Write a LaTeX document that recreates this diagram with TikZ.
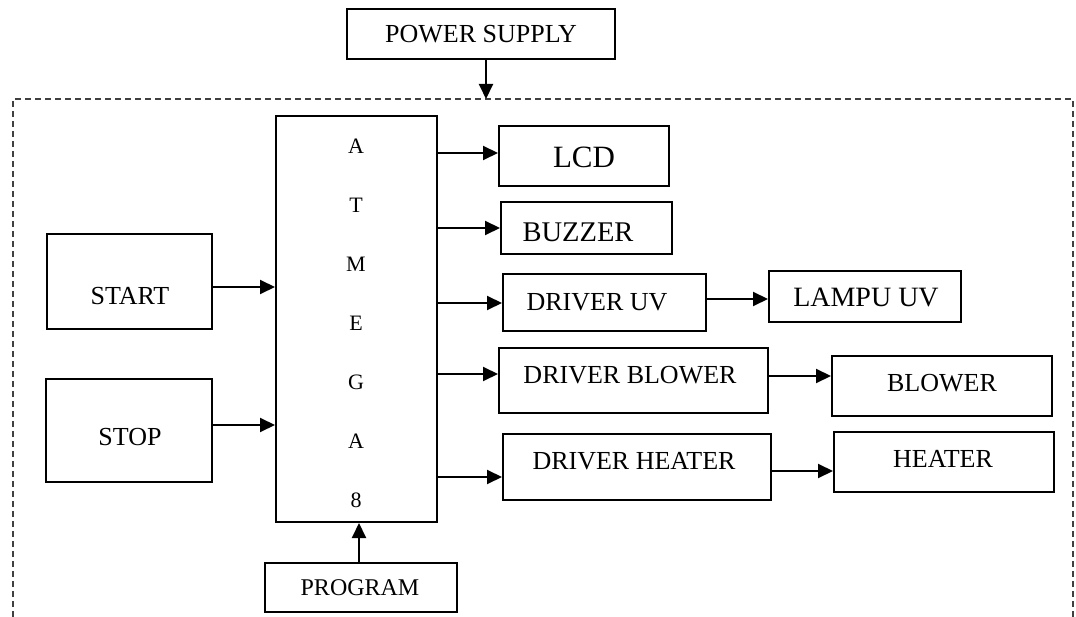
\documentclass[tikz,border=0pt]{standalone}
\usepackage{fontspec}
\setmainfont{Liberation Serif}
\usetikzlibrary{arrows.meta}

\newcommand*{\lebar}{1076}
\newcommand*{\tinggi}{617}
\newcommand*{\ukuran}[1]{\fontsize{#1}{#1}\selectfont}

\begin{document}
\begin{tikzpicture}
[
	x=1pt,
	y=-1pt,
	blok/.style={draw,line width=2pt,inner sep=0pt},
	teks/.style={inner sep=0pt,font=\ukuran{26}},
	panah/.style={line width=2pt,-{Triangle[length=15pt,width=14pt]}},
	batas/.style={line width=1.3pt,black!75,dash pattern=on 6pt off 4pt}
]

	\useasboundingbox (0,0) rectangle (\lebar,\tinggi);

	% system border (open at the bottom)
	\draw[batas] (13,\tinggi) -- (13,99) -- (1073,99) -- (1073,\tinggi);
	\coordinate (masuk) at (486,99);

	% boxes
	\node[blok,minimum width=268pt,minimum height=50pt] at (481,34) (power) {};
	\node[blok,minimum width=161pt,minimum height=406pt] at (356.5,319) (mcu) {};
	\node[blok,minimum width=165pt,minimum height=95pt] at (129.5,281.5) (start) {};
	\node[blok,minimum width=166pt,minimum height=103pt] at (129,430.5) (stop) {};
	\node[blok,minimum width=192pt,minimum height=49pt] at (361,587.5) (program) {};
	\node[blok,minimum width=170pt,minimum height=60pt] at (584,156) (lcd) {};
	\node[blok,minimum width=171pt,minimum height=52pt] at (586.5,228) (buzzer) {};
	\node[blok,minimum width=203pt,minimum height=57pt] at (604.5,302.5) (duv) {};
	\node[blok,minimum width=192pt,minimum height=51pt] at (865,296.5) (lampu) {};
	\node[blok,minimum width=269pt,minimum height=65pt] at (633.5,380.5) (dblower) {};
	\node[blok,minimum width=220pt,minimum height=60pt] at (942,386) (blower) {};
	\node[blok,minimum width=268pt,minimum height=66pt] at (637,467) (dheater) {};
	\node[blok,minimum width=220pt,minimum height=60pt] at (944,462) (heater) {};

	% labels
	\node[teks] at (481,34) (tpower) {POWER SUPPLY};
	\node[teks] at (130,296) (tstart) {START};
	\node[teks] at (130,437) (tstop) {STOP};
	\node[teks,font=\ukuran{24}] at (360,588) (tprogram) {PROGRAM};
	\node[teks,font=\ukuran{31}] at (584,157) (tlcd) {LCD};
	\node[teks,font=\ukuran{28.5}] at (578,232) (tbuzzer) {BUZZER};
	\node[teks] at (597,302) (tduv) {DRIVER UV};
	\node[teks,font=\ukuran{28}] at (866,297) (tlampu) {LAMPU UV};
	\node[teks] at (630,375) (tdblower) {DRIVER BLOWER};
	\node[teks] at (942,383) (tblower) {BLOWER};
	\node[teks] at (634,461) (tdheater) {DRIVER HEATER};
	\node[teks] at (943,459) (theater) {HEATER};

	\foreach \h [count=\i from 0] in {A,T,M,E,G,A,8}
		\node[teks,font=\ukuran{22}] at (356,146+59*\i) (huruf\i) {\h};

	% connections
	\draw[panah] (masuk |- power.south) -- (masuk);
	\draw[panah] (start.east |- 0,287) -- (mcu.west |- 0,287);
	\draw[panah] (stop.east |- 0,425) -- (mcu.west |- 0,425);
	\draw[panah] (program.north -| 359,0) -- (mcu.south -| 359,0);
	\draw[panah] (mcu.east |- 0,153) -- (lcd.west |- 0,153);
	\draw[panah] (mcu.east |- 0,228) -- (buzzer.west |- 0,228);
	\draw[panah] (mcu.east |- 0,303) -- (duv.west |- 0,303);
	\draw[panah] (mcu.east |- 0,374) -- (dblower.west |- 0,374);
	\draw[panah] (mcu.east |- 0,477) -- (dheater.west |- 0,477);
	\draw[panah] (duv.east |- 0,299) -- (lampu.west |- 0,299);
	\draw[panah] (dblower.east |- 0,376) -- (blower.west |- 0,376);
	\draw[panah] (dheater.east |- 0,471) -- (heater.west |- 0,471);

\end{tikzpicture}
\end{document}
